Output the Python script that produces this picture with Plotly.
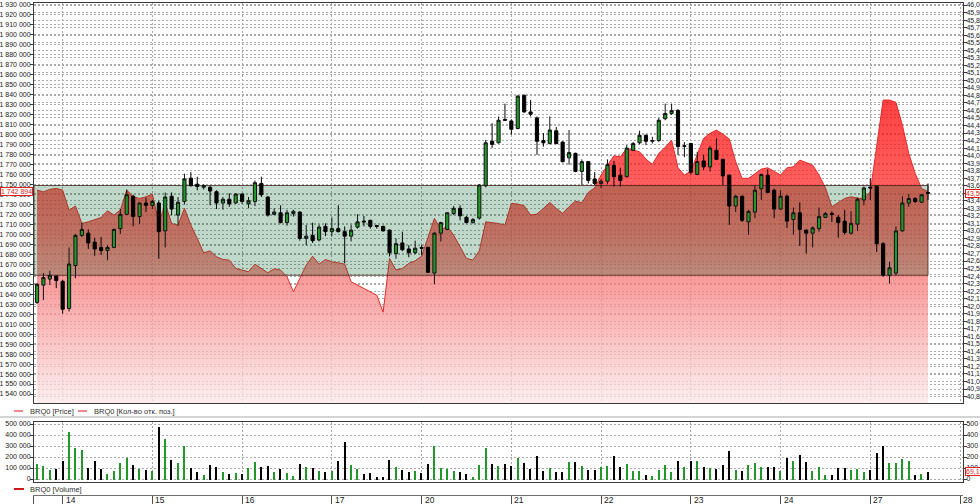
import plotly.graph_objects as go

# ---------------- data ----------------
days = ["14", "15", "16", "17", "20", "21", "22", "23", "24", "27", "28"]
day_start = [4, 18, 32, 46, 60, 74, 88, 102, 116, 130, 144]

open_ = [42.05, 42.28, 42.36, 42.40, 42.33, 41.97, 42.54, 42.94, 42.97, 42.85,
         42.78, 42.74, 42.78, 43.03, 43.22, 43.46, 43.19, 43.37, 43.34, 43.37,
         43.00, 43.46, 43.21, 43.39, 43.70, 43.62, 43.58, 43.58, 43.52, 43.37,
         43.42, 43.37, 43.49, 43.36, 43.39, 43.63, 43.45, 43.22, 43.24, 43.11,
         43.23, 43.25, 42.90, 42.94, 42.88, 43.06, 42.99, 43.03, 42.99, 42.93,
         43.05, 43.13, 43.14, 43.07, 43.06, 43.01, 42.70, 42.84, 42.76, 42.71,
         42.78, 42.78, 42.44, 42.97, 43.02, 43.23, 43.30, 43.18, 43.11, 43.17,
         43.60, 44.19, 44.17, 44.48, 44.46, 44.36, 44.80, 44.58, 44.50, 44.20,
         44.16, 44.33, 44.18, 43.97, 44.03, 43.79, 43.92, 43.69, 43.63, 43.66,
         43.87, 43.74, 43.72, 44.07, 44.17, 44.27, 44.19, 44.20, 44.49, 44.56,
         44.60, 44.12, 44.16, 43.75, 43.93, 43.85, 44.07, 43.95, 43.74, 43.33,
         43.46, 43.12, 43.25, 43.56, 43.74, 43.54, 43.29, 43.46, 43.15, 43.24,
         43.01, 42.97, 43.03, 43.18, 43.23, 43.18, 43.13, 42.97, 43.09, 43.41,
         43.58, 43.59, 42.83, 42.41, 42.44, 43.00, 43.37, 43.43, 43.38, 43.51]
high = [42.31, 42.44, 42.47, 42.41, 42.35, 42.78, 42.96, 43.11, 43.02, 42.91,
        42.92, 42.81, 43.03, 43.29, 43.55, 43.48, 43.38, 43.44, 43.41, 43.40,
        43.51, 43.51, 43.45, 43.76, 43.78, 43.72, 43.62, 43.60, 43.54, 43.45,
        43.50, 43.50, 43.50, 43.45, 43.67, 43.72, 43.46, 43.30, 43.34, 43.28,
        43.28, 43.26, 43.08, 43.11, 43.08, 43.10, 43.18, 43.34, 43.06, 43.08,
        43.22, 43.20, 43.15, 43.08, 43.07, 43.02, 42.90, 42.99, 42.81, 42.87,
        42.81, 42.79, 42.98, 43.12, 43.25, 43.33, 43.34, 43.20, 43.17, 43.62,
        44.21, 44.43, 44.52, 44.69, 44.48, 44.80, 44.81, 44.74, 44.52, 44.30,
        44.52, 44.38, 44.19, 44.34, 44.04, 43.95, 43.93, 43.78, 43.69, 43.95,
        43.93, 43.84, 44.14, 44.18, 44.33, 44.28, 44.25, 44.50, 44.69, 44.69,
        44.62, 44.18, 44.17, 44.05, 44.01, 44.13, 44.23, 43.96, 43.75, 43.48,
        43.47, 43.28, 43.61, 43.76, 43.82, 43.56, 43.54, 43.48, 43.31, 43.38,
        43.02, 43.06, 43.31, 43.25, 43.26, 43.21, 43.28, 43.26, 43.44, 43.59,
        43.70, 43.61, 42.85, 42.59, 43.06, 43.46, 43.49, 43.45, 43.49, 43.63]
low = [42.03, 42.08, 42.28, 42.24, 41.90, 41.93, 42.37, 42.92, 42.76, 42.67,
       42.68, 42.61, 42.77, 42.96, 43.21, 43.06, 43.09, 43.25, 43.29, 42.63,
       42.78, 43.21, 43.07, 43.35, 43.59, 43.54, 43.55, 43.34, 43.29, 43.28,
       43.32, 43.36, 43.36, 43.30, 43.33, 43.45, 43.19, 43.21, 43.10, 43.07,
       43.19, 42.87, 42.81, 42.84, 42.86, 42.93, 42.93, 42.98, 42.57, 42.86,
       43.03, 43.06, 43.03, 43.03, 42.99, 42.66, 42.63, 42.73, 42.65, 42.69,
       42.68, 42.44, 42.29, 42.86, 43.01, 43.21, 43.14, 43.10, 43.10, 43.15,
       43.58, 44.10, 44.16, 44.46, 44.28, 44.35, 44.57, 44.52, 44.01, 44.12,
       44.15, 44.15, 43.91, 43.88, 43.78, 43.61, 43.63, 43.61, 43.57, 43.62,
       43.59, 43.59, 43.71, 44.06, 44.15, 44.14, 44.16, 44.18, 44.47, 44.54,
       44.01, 43.98, 43.75, 43.74, 43.81, 43.79, 43.94, 43.61, 43.08, 43.25,
       43.12, 42.95, 43.17, 43.41, 43.50, 43.17, 43.28, 43.04, 42.95, 42.80,
       42.70, 42.78, 42.99, 43.17, 43.12, 42.91, 42.95, 42.95, 43.00, 43.34,
       43.41, 42.72, 42.39, 42.30, 42.41, 42.99, 43.32, 43.37, 43.37, 43.41]
close = [42.29, 42.38, 42.41, 42.34, 41.96, 42.56, 42.94, 43.02, 42.84, 42.76,
         42.74, 42.78, 43.02, 43.22, 43.48, 43.19, 43.37, 43.34, 43.39, 42.99,
         43.45, 43.29, 43.38, 43.69, 43.60, 43.59, 43.60, 43.53, 43.37, 43.42,
         43.36, 43.49, 43.39, 43.40, 43.64, 43.48, 43.21, 43.25, 43.11, 43.24,
         43.26, 42.90, 42.93, 42.87, 43.05, 42.99, 43.03, 42.99, 42.93, 43.01,
         43.12, 43.12, 43.06, 43.06, 43.00, 42.71, 42.83, 42.75, 42.71, 42.77,
         42.77, 42.45, 42.97, 43.11, 43.24, 43.30, 43.20, 43.11, 43.15, 43.61,
         44.17, 44.15, 44.47, 44.47, 44.35, 44.79, 44.58, 44.55, 44.19, 44.17,
         44.34, 44.16, 43.92, 44.04, 43.79, 43.92, 43.67, 43.63, 43.66, 43.88,
         43.72, 43.67, 44.10, 44.16, 44.27, 44.19, 44.20, 44.47, 44.56, 44.60,
         44.12, 44.13, 43.78, 43.92, 43.85, 44.10, 43.95, 43.73, 43.33, 43.46,
         43.14, 43.26, 43.54, 43.75, 43.51, 43.29, 43.46, 43.13, 43.24, 43.02,
         42.97, 43.04, 43.19, 43.23, 43.22, 43.11, 42.98, 43.10, 43.42, 43.57,
         43.57, 42.83, 42.41, 42.51, 43.00, 43.37, 43.43, 43.39, 43.48, 43.50]

open_interest = [1744400, 1742700, 1745100, 1746100, 1744400, 1724400, 1728400, 1711000, 1712600, 1715000,
                 1717000, 1723700, 1719400, 1724400, 1744400, 1737700, 1736100, 1737700, 1740400, 1711000,
                 1731100, 1711000, 1709300, 1726100, 1709300, 1696000, 1681500, 1683500, 1677500, 1674900,
                 1674200, 1665900, 1664200, 1662500, 1670200, 1665900, 1661500, 1665500, 1664200, 1657500,
                 1642400, 1655900, 1669200, 1678200, 1670200, 1674900, 1672500, 1671500, 1670200, 1652500,
                 1649100, 1646400, 1643100, 1639100, 1622100, 1675900, 1664200, 1665900, 1670900, 1673500,
                 1678200, 1697600, 1716000, 1705000, 1707600, 1699300, 1687000, 1675900, 1674200, 1683500,
                 1712600, 1712000, 1711000, 1709300, 1731100, 1730400, 1728700, 1719400, 1720400, 1726100,
                 1732100, 1726100, 1721100, 1727700, 1733400, 1731700, 1742100, 1746700, 1759500, 1769500,
                 1778800, 1777800, 1786300, 1784600, 1782800, 1775500, 1770200, 1781200, 1787300, 1794600,
                 1766800, 1759500, 1763500, 1780200, 1796300, 1801300, 1804600, 1800600, 1795600, 1772800,
                 1756200, 1756200, 1761200, 1765500, 1766800, 1763500, 1759500, 1766800, 1767800, 1774500,
                 1772200, 1769500, 1759500, 1746700, 1727700, 1732100, 1736100, 1737700, 1736700, 1735400,
                 1742700, 1786300, 1834700, 1834700, 1832400, 1809600, 1781200, 1761200, 1746100, 1742894]

volume = [140000, 119000, 88000, 100000, 165000, 430000, 290000, 268000, 107000, 171000,
          100000, 49000, 79000, 146000, 192000, 134000, 91000, 85000, 79000, 476000,
          366000, 180000, 152000, 308000, 107000, 64000, 43000, 134000, 116000, 70000,
          49000, 61000, 49000, 107000, 162000, 116000, 125000, 70000, 91000, 61000,
          30000, 143000, 110000, 107000, 73000, 70000, 73000, 171000, 345000, 131000,
          91000, 46000, 61000, 21000, 21000, 177000, 113000, 88000, 70000, 76000,
          61000, 140000, 308000, 104000, 91000, 79000, 70000, 46000, 21000, 131000,
          287000, 140000, 122000, 140000, 125000, 192000, 152000, 98000, 216000, 73000,
          104000, 70000, 70000, 155000, 162000, 125000, 85000, 85000, 116000, 125000,
          216000, 110000, 143000, 73000, 79000, 43000, 34000, 85000, 134000, 70000,
          171000, 110000, 165000, 171000, 110000, 104000, 100000, 134000, 259000, 85000,
          73000, 134000, 146000, 116000, 110000, 110000, 79000, 195000, 171000, 223000,
          162000, 79000, 110000, 37000, 37000, 104000, 104000, 85000, 98000, 64000,
          88000, 244000, 308000, 146000, 152000, 186000, 171000, 37000, 52000, 69100]

band_low = 1659000
band_high = 1749000

# ---------------- styling ----------------
FONT = "Liberation Sans, Arial, sans-serif"
GRID = "#a8a8a8"
AXIS = "#3a3a3a"
GREEN = "#23982a"
DOT = "2px,2px"
FS = 7

n = len(close)
idx = list(range(n))
x_left, x_right = -0.47, 144.46


def sp(v):
    return f"{v:,}".replace(",", " ")


vol_colors = [GREEN if c >= o else "#000000" for o, c in zip(open_, close)]

fig = go.Figure()

# open interest area with vertical gradient
area_scale = [[0.0, "rgba(252,232,232,0.75)"],
              [0.385, "rgba(247,126,126,0.75)"],
              [0.547, "rgba(254,72,72,0.75)"],
              [0.709, "rgba(255,42,42,0.75)"],
              [1.0, "rgba(255,0,0,0.75)"]]
fig.add_trace(go.Scatter(
    x=idx, y=open_interest, mode="lines", fill="tozeroy",
    line=dict(color="#e42a2a", width=1),
    fillgradient=dict(type="vertical", colorscale=area_scale,
                      start=1531000, stop=1840000),
    name="BRQ0 [Кол-во отк. поз.]", showlegend=False, hoverinfo="skip"))

# highlighted band
fig.add_trace(go.Scatter(
    x=[x_left, n - 1, n - 1, x_left, x_left],
    y=[band_low, band_low, band_high, band_high, band_low],
    mode="lines", fill="toself", fillcolor="rgba(0,100,45,0.25)",
    line=dict(color="rgba(70,30,25,0.75)", width=1),
    showlegend=False, hoverinfo="skip"))

# candles
fig.add_trace(go.Candlestick(
    x=idx, open=open_, high=high, low=low, close=close, yaxis="y2",
    increasing=dict(fillcolor=GREEN, line=dict(color="#111111", width=1)),
    decreasing=dict(fillcolor="#000000", line=dict(color="#000000", width=1)),
    whiskerwidth=0, name="BRQ0 [Price]", showlegend=False))

# volume
fig.add_trace(go.Bar(
    x=idx, y=volume, xaxis="x2", yaxis="y3", width=0.2,
    marker=dict(color=vol_colors, line=dict(width=0)),
    name="BRQ0 [Volume]", showlegend=False))
fig.add_trace(go.Scatter(
    x=idx, y=[v / 1000 for v in volume], xaxis="x2", yaxis="y4",
    mode="lines", line=dict(width=0), opacity=0, showlegend=False, hoverinfo="skip"))
# date strip anchor
fig.add_trace(go.Scatter(
    x=day_start, y=[0.5] * len(day_start), xaxis="x3", yaxis="y5",
    mode="markers", opacity=0, showlegend=False, hoverinfo="skip"))

tickfont = dict(family=FONT, size=FS, color="#202020")
common_x = dict(range=[x_left, x_right], tickvals=day_start, showgrid=True,
                gridcolor=GRID, griddash=DOT, gridwidth=1, showline=True,
                linecolor=AXIS, mirror=True, zeroline=False, ticks="",
                automargin=False)
common_y = dict(ticks="outside", ticklen=3, tickcolor=AXIS, tickfont=tickfont,
                showline=True, linecolor=AXIS, zeroline=False, automargin=False,
                ticklabelstandoff=-2)

H = 501.0
fig.update_layout(
    width=980, height=504,
    margin=dict(l=34, r=17, t=3, b=0, autoexpand=False),
    paper_bgcolor="white", plot_bgcolor="white",
    separators=", ",
    showlegend=False,
    bargap=0,
    xaxis=dict(common_x, domain=[0, 1], anchor="y", showticklabels=False,
               rangeslider=dict(visible=False)),
    yaxis=dict(common_y, domain=[(504 - 403) / H, 1.0], range=[1530980, 1932000],
               tick0=1540000, dtick=10000, tickformat=",d", side="left",
               showgrid=True, gridcolor=GRID, griddash=DOT),
    yaxis2=dict(common_y, overlaying="y", side="right", range=[40.714, 46.027],
                tick0=40.9, dtick=0.1, tickformat=".1f", showgrid=True,
                gridcolor=GRID, griddash=DOT),
    xaxis2=dict(common_x, domain=[0, 1], anchor="y3", showticklabels=False),
    yaxis3=dict(common_y, domain=[(504 - 482) / H, (504 - 421.5) / H],
                range=[-27300, 522700], tick0=0, dtick=100000, tickformat=",d",
                showgrid=True, gridcolor=GRID, griddash=DOT),
    yaxis4=dict(common_y, overlaying="y3", side="right", range=[-27.3, 522.7],
                tick0=0, dtick=100, tickformat="d", showgrid=False),
    xaxis3=dict(domain=[0, 1], anchor="y5", range=[x_left, x_right],
                tickvals=day_start, showticklabels=False, side="top",
                showgrid=True, gridcolor="#505050", gridwidth=1, showline=True,
                linecolor="#707070", ticks="", zeroline=False, automargin=False),
    yaxis5=dict(domain=[0, 8 / H], range=[0, 1], showticklabels=False,
                showgrid=False, zeroline=False, showline=True, linecolor="#505050",
                ticks="", automargin=False),
)

# day labels in the date strip
for d, s in zip(days, day_start):
    fig.add_annotation(x=s, y=0.45, xref="x3", yref="y5", text=d, xanchor="left",
                       yanchor="middle", xshift=1, showarrow=False,
                       font=dict(family=FONT, size=8.5, color="#202020"))


def px_x(p):
    return (p - 34) / 929.0


def px_y(p):
    return (504 - p) / H


# legend rows (text + line samples)
leg_font = dict(family=FONT, size=7.5, color="#303030")
ann = [
    dict(text="BRQ0 [Price]", x=px_x(28), y=px_y(411)),
    dict(text="BRQ0 [Кол-во отк. поз.]", x=px_x(92), y=px_y(411)),
    dict(text="BRQ0 [Volume]", x=px_x(28), y=px_y(489)),
]
for a in ann:
    fig.add_annotation(xref="paper", yref="paper", xanchor="left", yanchor="middle",
                       showarrow=False, font=leg_font, **a)

shapes = [
    dict(type="line", xref="paper", yref="paper", x0=px_x(14), x1=px_x(23),
         y0=px_y(411), y1=px_y(411), line=dict(color="#f08a8a", width=2)),
    dict(type="line", xref="paper", yref="paper", x0=px_x(78), x1=px_x(87),
         y0=px_y(411), y1=px_y(411), line=dict(color="#f08a8a", width=2)),
    dict(type="line", xref="paper", yref="paper", x0=px_x(14), x1=px_x(24),
         y0=px_y(489), y1=px_y(489), line=dict(color="#d01818", width=2)),
    dict(type="line", xref="paper", yref="paper", x0=px_x(0), x1=px_x(980),
         y0=px_y(417), y1=px_y(417), line=dict(color="#a8a8a8", width=1)),
]
for s in shapes:
    fig.add_shape(**s)

# last value markers
hl = dict(showarrow=False, bgcolor="white", bordercolor="#e02020", borderwidth=1,
          borderpad=0, font=dict(family=FONT, size=FS, color="#e02020"))
fig.add_annotation(xref="paper", yref="y", x=0, xanchor="right", xshift=-1,
                   y=open_interest[-1], text=sp(open_interest[-1]), **hl)
fig.add_annotation(xref="paper", yref="y2", x=1, xanchor="left", xshift=2,
                   y=close[-1], text=f"{close[-1]:.2f}".replace(".", ","), **hl)
fig.add_annotation(xref="paper", yref="y4", x=1, xanchor="left", xshift=2,
                   y=volume[-1] / 1000, text=f"{volume[-1] / 1000:.1f}".replace(".", ","), **hl)

fig.write_html("out.html", post_script="document.body.style.margin='0px';",
               config={"displayModeBar": False})
